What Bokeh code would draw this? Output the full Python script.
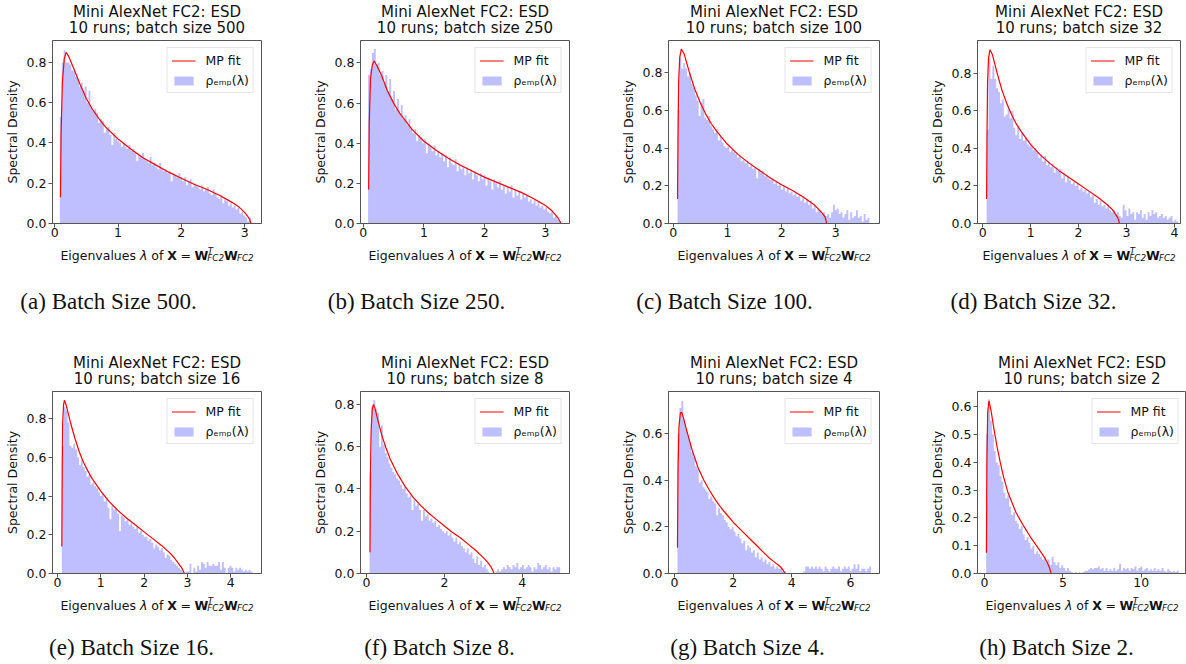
import numpy as np
from bokeh.plotting import figure
from bokeh.models import Label, Legend, LegendItem, FixedTicker, PrintfTickFormatter, Range1d
from bokeh.layouts import row, column
from bokeh.embed import file_html
from bokeh.resources import INLINE

# ---------------- data ----------------
panel_letters = ["a", "b", "c", "d", "e", "f", "g", "h"]
batch_sizes = [500, 250, 100, 32, 16, 8, 4, 2]

bin_lo = [0.08, 0.08, 0.08, 0.08, 0.10, 0.08, 0.10, 0.10]
bin_hi = [3.10, 3.25, 3.62, 4.08, 4.50, 4.97, 6.70, 12.40]

hist_a = [0.53, 0.80, 0.86, 0.80, 0.80, 0.79, 0.76, 0.76, 0.73, 0.72,
          0.68, 0.70, 0.66, 0.68, 0.60, 0.66, 0.58, 0.56, 0.57, 0.55,
          0.50, 0.52, 0.51, 0.45, 0.47, 0.48, 0.44, 0.39, 0.45, 0.42,
          0.41, 0.40, 0.38, 0.40, 0.38, 0.37, 0.39, 0.36, 0.37, 0.35,
          0.31, 0.34, 0.33, 0.35, 0.32, 0.31, 0.30, 0.33, 0.29, 0.30,
          0.28, 0.27, 0.30, 0.27, 0.26, 0.27, 0.25, 0.26, 0.21, 0.25,
          0.24, 0.23, 0.25, 0.23, 0.21, 0.23, 0.19, 0.21, 0.22, 0.18,
          0.20, 0.19, 0.18, 0.17, 0.19, 0.16, 0.17, 0.18, 0.15, 0.14,
          0.17, 0.15, 0.13, 0.12, 0.14, 0.10, 0.12, 0.11, 0.09, 0.10,
          0.08, 0.09, 0.07, 0.08, 0.05, 0.06, 0.04, 0.03, 0.01, 0.03]
hist_b = [0.74, 0.77, 0.85, 0.87, 0.79, 0.80, 0.74, 0.76, 0.70, 0.74,
          0.66, 0.72, 0.62, 0.66, 0.57, 0.62, 0.55, 0.59, 0.52, 0.54,
          0.49, 0.52, 0.48, 0.45, 0.47, 0.41, 0.44, 0.43, 0.40, 0.42,
          0.35, 0.40, 0.38, 0.36, 0.39, 0.34, 0.36, 0.33, 0.35, 0.31,
          0.34, 0.28, 0.33, 0.30, 0.29, 0.32, 0.26, 0.30, 0.27, 0.29,
          0.24, 0.28, 0.25, 0.27, 0.22, 0.26, 0.24, 0.21, 0.25, 0.22,
          0.24, 0.19, 0.23, 0.21, 0.17, 0.22, 0.20, 0.18, 0.21, 0.17,
          0.19, 0.15, 0.18, 0.16, 0.19, 0.13, 0.17, 0.14, 0.16, 0.12,
          0.15, 0.13, 0.14, 0.11, 0.12, 0.10, 0.12, 0.09, 0.11, 0.08,
          0.09, 0.07, 0.08, 0.06, 0.05, 0.06, 0.03, 0.04, 0.02, 0.01]
hist_c = [0.60, 0.88, 0.82, 0.85, 0.82, 0.78, 0.80, 0.74, 0.72, 0.68,
          0.65, 0.57, 0.64, 0.66, 0.56, 0.55, 0.57, 0.52, 0.50, 0.48,
          0.50, 0.44, 0.46, 0.43, 0.41, 0.40, 0.41, 0.38, 0.39, 0.38,
          0.37, 0.35, 0.36, 0.33, 0.34, 0.32, 0.33, 0.30, 0.32, 0.29,
          0.30, 0.24, 0.29, 0.27, 0.28, 0.25, 0.26, 0.24, 0.23, 0.24,
          0.21, 0.22, 0.20, 0.21, 0.18, 0.20, 0.17, 0.19, 0.16, 0.17,
          0.15, 0.16, 0.14, 0.15, 0.12, 0.14, 0.11, 0.13, 0.10, 0.12,
          0.08, 0.10, 0.06, 0.08, 0.07, 0.05, 0.06, 0.04, 0.05, 0.03,
          0.06, 0.10, 0.07, 0.08, 0.05, 0.06, 0.03, 0.05, 0.07, 0.02,
          0.06, 0.03, 0.04, 0.07, 0.03, 0.04, 0.01, 0.05, 0.02, 0.03]
hist_d = [0.50, 0.88, 0.77, 0.84, 0.77, 0.72, 0.70, 0.64, 0.66, 0.57,
          0.58, 0.61, 0.56, 0.60, 0.51, 0.47, 0.52, 0.45, 0.48, 0.44,
          0.46, 0.42, 0.41, 0.42, 0.39, 0.40, 0.38, 0.35, 0.37, 0.33,
          0.36, 0.31, 0.33, 0.30, 0.32, 0.27, 0.30, 0.28, 0.29, 0.24,
          0.27, 0.22, 0.25, 0.23, 0.21, 0.22, 0.20, 0.21, 0.18, 0.19,
          0.17, 0.18, 0.16, 0.17, 0.14, 0.15, 0.11, 0.13, 0.10, 0.12,
          0.09, 0.10, 0.08, 0.09, 0.07, 0.06, 0.07, 0.05, 0.06, 0.04,
          0.03, 0.10, 0.07, 0.04, 0.08, 0.05, 0.06, 0.02, 0.06, 0.05,
          0.07, 0.03, 0.05, 0.02, 0.06, 0.04, 0.07, 0.05, 0.06, 0.03,
          0.04, 0.05, 0.03, 0.04, 0.02, 0.03, 0.04, 0.01, 0.02, 0.01]
hist_e = [0.66, 0.86, 0.84, 0.78, 0.66, 0.65, 0.67, 0.64, 0.60, 0.56,
          0.59, 0.55, 0.53, 0.50, 0.51, 0.46, 0.47, 0.45, 0.44, 0.42,
          0.40, 0.41, 0.37, 0.39, 0.34, 0.28, 0.35, 0.33, 0.34, 0.31,
          0.22, 0.30, 0.29, 0.27, 0.28, 0.25, 0.26, 0.24, 0.23, 0.24,
          0.21, 0.22, 0.20, 0.19, 0.19, 0.17, 0.18, 0.16, 0.13, 0.15,
          0.14, 0.12, 0.13, 0.11, 0.08, 0.10, 0.09, 0.07, 0.06, 0.05,
          0.04, 0.03, 0.02, 0.01, 0.00, 0.01, 0.01, 0.05, 0.00, 0.03,
          0.01, 0.04, 0.02, 0.06, 0.05, 0.03, 0.06, 0.04, 0.04, 0.05,
          0.04, 0.04, 0.06, 0.02, 0.06, 0.03, 0.00, 0.03, 0.04, 0.03,
          0.01, 0.03, 0.02, 0.03, 0.02, 0.01, 0.02, 0.01, 0.02, 0.01]
hist_f = [0.48, 0.79, 0.82, 0.78, 0.76, 0.60, 0.70, 0.61, 0.57, 0.55,
          0.52, 0.50, 0.48, 0.47, 0.45, 0.44, 0.42, 0.40, 0.41, 0.38,
          0.36, 0.37, 0.30, 0.35, 0.32, 0.33, 0.30, 0.25, 0.30, 0.27,
          0.28, 0.25, 0.26, 0.24, 0.25, 0.22, 0.23, 0.21, 0.20, 0.19,
          0.20, 0.18, 0.19, 0.17, 0.15, 0.17, 0.14, 0.15, 0.13, 0.12,
          0.10, 0.12, 0.09, 0.10, 0.07, 0.05, 0.08, 0.04, 0.06, 0.03,
          0.04, 0.02, 0.01, 0.00, 0.00, 0.00, 0.01, 0.02, 0.01, 0.02,
          0.03, 0.02, 0.04, 0.03, 0.02, 0.04, 0.03, 0.05, 0.02, 0.03,
          0.04, 0.02, 0.03, 0.04, 0.03, 0.01, 0.03, 0.02, 0.05, 0.04,
          0.02, 0.03, 0.04, 0.02, 0.03, 0.01, 0.03, 0.02, 0.03, 0.03]
hist_g = [0.60, 0.71, 0.74, 0.66, 0.62, 0.59, 0.56, 0.52, 0.50, 0.46,
          0.45, 0.39, 0.40, 0.37, 0.36, 0.35, 0.32, 0.33, 0.31, 0.30,
          0.25, 0.28, 0.26, 0.25, 0.23, 0.22, 0.20, 0.19, 0.20, 0.18,
          0.16, 0.17, 0.15, 0.13, 0.14, 0.10, 0.12, 0.11, 0.09, 0.10,
          0.07, 0.09, 0.06, 0.07, 0.05, 0.06, 0.04, 0.05, 0.03, 0.04,
          0.02, 0.03, 0.02, 0.02, 0.01, 0.01, 0.00, 0.00, 0.00, 0.00,
          0.00, 0.00, 0.00, 0.00, 0.00, 0.01, 0.03, 0.03, 0.02, 0.03,
          0.02, 0.03, 0.02, 0.03, 0.02, 0.01, 0.03, 0.02, 0.01, 0.02,
          0.03, 0.02, 0.02, 0.03, 0.01, 0.02, 0.03, 0.02, 0.03, 0.01,
          0.02, 0.04, 0.02, 0.04, 0.01, 0.02, 0.02, 0.01, 0.02, 0.03]
hist_h = [0.50, 0.625, 0.55, 0.50, 0.44, 0.40, 0.39, 0.35, 0.33, 0.29,
          0.27, 0.28, 0.24, 0.21, 0.22, 0.19, 0.18, 0.16, 0.17, 0.14,
          0.12, 0.13, 0.11, 0.09, 0.10, 0.07, 0.08, 0.07, 0.06, 0.05,
          0.06, 0.04, 0.05, 0.03, 0.06, 0.04, 0.03, 0.04, 0.02, 0.03,
          0.02, 0.01, 0.02, 0.01, 0.005, 0.00, 0.005, 0.00, 0.005, 0.00,
          0.005, 0.01, 0.01, 0.015, 0.02, 0.015, 0.02, 0.02, 0.025, 0.015,
          0.02, 0.01, 0.02, 0.01, 0.015, 0.01, 0.02, 0.01, 0.015, 0.035,
          0.01, 0.02, 0.015, 0.02, 0.01, 0.02, 0.015, 0.025, 0.01, 0.02,
          0.025, 0.01, 0.015, 0.02, 0.01, 0.015, 0.01, 0.02, 0.01, 0.015,
          0.01, 0.02, 0.01, 0.005, 0.015, 0.01, 0.005, 0.01, 0.005, 0.01]

mp_x_a = [0.09, 0.10, 0.12, 0.15, 0.18, 0.22, 0.3, 0.4, 0.5, 0.6, 0.7, 0.8, 1.0, 1.2, 1.4,
          1.6, 1.8, 2.0, 2.2, 2.4, 2.6, 2.8, 2.9, 3.0, 3.05, 3.08, 3.1]
mp_y_a = [0.13, 0.45, 0.70, 0.82, 0.85, 0.83, 0.77, 0.69, 0.62, 0.565, 0.52, 0.48, 0.42, 0.37, 0.325,
          0.29, 0.255, 0.225, 0.195, 0.17, 0.14, 0.105, 0.085, 0.055, 0.035, 0.02, 0.0]
mp_x_b = [0.09, 0.10, 0.12, 0.15, 0.18, 0.22, 0.3, 0.4, 0.5, 0.6, 0.7, 0.8, 1.0, 1.2, 1.4,
          1.6, 1.8, 2.0, 2.2, 2.4, 2.6, 2.8, 3.0, 3.1, 3.2, 3.24, 3.25]
mp_y_b = [0.17, 0.50, 0.72, 0.79, 0.81, 0.79, 0.74, 0.66, 0.60, 0.55, 0.51, 0.47, 0.41, 0.365, 0.325,
          0.29, 0.26, 0.23, 0.205, 0.18, 0.155, 0.125, 0.09, 0.065, 0.03, 0.01, 0.0]
mp_x_c = [0.08, 0.09, 0.10, 0.12, 0.15, 0.2, 0.3, 0.4, 0.5, 0.6, 0.7, 0.8, 1.0, 1.2, 1.4,
          1.6, 1.8, 2.0, 2.2, 2.4, 2.6, 2.7, 2.75, 2.8, 2.82, 2.83]
mp_y_c = [0.13, 0.50, 0.75, 0.88, 0.925, 0.90, 0.80, 0.71, 0.64, 0.58, 0.53, 0.49, 0.42, 0.365, 0.32,
          0.28, 0.24, 0.205, 0.175, 0.14, 0.10, 0.07, 0.055, 0.035, 0.015, 0.0]
mp_x_d = [0.08, 0.09, 0.10, 0.12, 0.15, 0.2, 0.3, 0.4, 0.5, 0.6, 0.7, 0.8, 1.0, 1.2, 1.4,
          1.6, 1.8, 2.0, 2.2, 2.4, 2.6, 2.7, 2.77, 2.82, 2.84, 2.85]
mp_y_d = [0.13, 0.50, 0.75, 0.88, 0.925, 0.90, 0.80, 0.71, 0.64, 0.58, 0.53, 0.49, 0.42, 0.365, 0.32,
          0.28, 0.245, 0.21, 0.175, 0.14, 0.10, 0.075, 0.05, 0.03, 0.015, 0.0]
mp_x_e = [0.10, 0.11, 0.12, 0.14, 0.16, 0.2, 0.3, 0.4, 0.5, 0.6, 0.7, 0.8, 1.0, 1.2, 1.4,
          1.6, 1.8, 2.0, 2.2, 2.4, 2.6, 2.7, 2.8, 2.88, 2.93]
mp_y_e = [0.14, 0.55, 0.78, 0.87, 0.895, 0.87, 0.78, 0.70, 0.63, 0.575, 0.53, 0.49, 0.425, 0.37, 0.325,
          0.285, 0.25, 0.215, 0.18, 0.145, 0.105, 0.08, 0.05, 0.025, 0.0]
mp_x_f = [0.09, 0.10, 0.12, 0.15, 0.18, 0.22, 0.3, 0.4, 0.5, 0.6, 0.8, 1.0, 1.2, 1.4, 1.6,
          1.8, 2.0, 2.2, 2.4, 2.6, 2.8, 3.0, 3.1, 3.2, 3.25, 3.27]
mp_y_f = [0.10, 0.45, 0.68, 0.78, 0.80, 0.78, 0.72, 0.65, 0.595, 0.545, 0.47, 0.41, 0.36, 0.32, 0.285,
          0.255, 0.225, 0.195, 0.17, 0.14, 0.11, 0.075, 0.055, 0.03, 0.012, 0.0]
mp_x_g = [0.10, 0.12, 0.15, 0.2, 0.25, 0.3, 0.4, 0.5, 0.6, 0.8, 1.0, 1.2, 1.4, 1.6, 1.8,
          2.0, 2.2, 2.4, 2.6, 2.8, 3.0, 3.2, 3.4, 3.6, 3.7, 3.77]
mp_y_g = [0.11, 0.45, 0.63, 0.69, 0.69, 0.67, 0.62, 0.575, 0.53, 0.455, 0.40, 0.355, 0.315, 0.28, 0.25,
          0.22, 0.195, 0.17, 0.145, 0.12, 0.095, 0.07, 0.05, 0.03, 0.015, 0.0]
mp_x_h = [0.12, 0.15, 0.2, 0.28, 0.4, 0.6, 0.8, 1.0, 1.2, 1.5, 2.0, 2.5, 3.0, 3.5, 3.8,
          4.0, 4.15, 4.25]
mp_y_h = [0.075, 0.40, 0.58, 0.62, 0.59, 0.52, 0.455, 0.40, 0.35, 0.29, 0.22, 0.17, 0.125, 0.085, 0.06,
          0.04, 0.02, 0.0]

hists = [hist_a, hist_b, hist_c, hist_d, hist_e, hist_f, hist_g, hist_h]
mp_xs = [mp_x_a, mp_x_b, mp_x_c, mp_x_d, mp_x_e, mp_x_f, mp_x_g, mp_x_h]
mp_ys = [mp_y_a, mp_y_b, mp_y_c, mp_y_d, mp_y_e, mp_y_f, mp_y_g, mp_y_h]

x_tick_lists = [[0, 1, 2, 3], [0, 1, 2, 3], [0, 1, 2, 3], [0, 1, 2, 3, 4],
                [0, 1, 2, 3, 4], [0, 2, 4], [0, 2, 4, 6], [0, 5, 10]]
y_tick_lists = [[0, 0.2, 0.4, 0.6, 0.8]] * 6 + [[0, 0.2, 0.4, 0.6], [0, 0.1, 0.2, 0.3, 0.4, 0.5, 0.6]]

# ---------------- layout / style ----------------
x_ranges = [(-0.036, 3.267), (-0.044, 3.395), (-0.087, 3.806), (-0.11, 4.127),
            (-0.115, 4.71), (-0.153, 5.21), (-0.206, 6.99), (-0.45, 12.89)]
y_tops = [0.909, 0.912, 0.97, 0.974, 0.94, 0.861, 0.781, 0.654]

FIG_W = [308, 308, 309, 261]
FRAME_W = [[209, 209, 211, 203], [209, 209, 211, 209]]
BORDER_L = 52
FRAME_H = [183, 182]
TOP_H = [37, 36]          # height of the title strip
BOT_H = [109, 69]         # height of the x-label / caption strip
MAIN_TOP = 3
MAIN_BOT = 20
CAP_X = [108, 131]
CAP_Y = [51, 15]
FONT = "DejaVu Sans"
SPINE = "#555555"
TXT = "#111111"


def add_label(p, x, y, text, size, style="normal", align="left", baseline="alphabetic", font=FONT):
    p.add_layout(Label(x=x, y=y, text=text,
                       text_font=font, text_font_size=f"{size}px", text_font_style=style,
                       text_align=align, text_baseline=baseline, text_color=TXT))


def text_fig(w, h):
    t = figure(width=w, height=h, x_range=Range1d(0, w), y_range=Range1d(0, h),
               output_backend="svg", toolbar_location=None,
               x_axis_type=None, y_axis_type=None, min_border=0)
    t.frame_align = False
    t.outline_line_color = None
    t.background_fill_color = "white"
    t.border_fill_color = "white"
    return t


def make_panel(k):
    col = k % 4
    r = k // 4
    fw = FRAME_W[r][col]
    W = FIG_W[col]
    fh = FRAME_H[r]
    H = MAIN_TOP + fh + MAIN_BOT
    p = figure(width=W, height=H,
               x_range=Range1d(*x_ranges[k]), y_range=Range1d(0, y_tops[k]),
               output_backend="svg", toolbar_location=None,
               min_border_left=BORDER_L, min_border_right=W - BORDER_L - fw,
               min_border_top=MAIN_TOP, min_border_bottom=MAIN_BOT)
    p.frame_align = False
    p.background_fill_color = "white"
    p.border_fill_color = "white"
    p.grid.visible = False
    p.outline_line_color = SPINE
    p.outline_line_width = 1
    p.outline_line_alpha = 1

    # histogram drawn as one step polygon (density=True, 100 bins)
    h = hists[k]
    edges = np.linspace(bin_lo[k], bin_hi[k], len(h) + 1)
    px = [edges[0]]
    py = [0.0]
    for i, v in enumerate(h):
        px += [edges[i], edges[i + 1]]
        py += [v, v]
    px.append(edges[-1])
    py.append(0.0)
    hr = p.patch(px, py, fill_color="#0000ff", fill_alpha=0.25, line_color=None)
    lr = p.line(mp_xs[k], mp_ys[k], line_color="#ff0000", line_width=1.2)

    legend = Legend(items=[LegendItem(label="MP fit", renderers=[lr]),
                           LegendItem(label="ρₑₘₚ(λ)", renderers=[hr])],
                    location="top_right")
    legend.label_text_font = FONT
    legend.label_text_font_size = "12.5px"
    legend.label_text_color = TXT
    legend.glyph_width = 24
    legend.glyph_height = 11
    legend.label_height = 16
    legend.label_standoff = 10
    legend.padding = 4
    legend.spacing = 4
    legend.margin = 7
    legend.border_line_color = "#cccccc"
    legend.background_fill_alpha = 0.8
    p.add_layout(legend)

    for ax in (p.xaxis[0], p.yaxis[0]):
        ax.axis_line_color = SPINE
        ax.major_tick_line_color = SPINE
        ax.major_tick_out = 4
        ax.major_tick_in = 0
        ax.minor_tick_line_color = None
        ax.major_label_text_font = FONT
        ax.major_label_text_font_size = "12.5px"
        ax.major_label_text_color = TXT
    p.xaxis.ticker = FixedTicker(ticks=x_tick_lists[k])
    p.xaxis.formatter = PrintfTickFormatter(format="%d")
    p.xaxis.major_label_standoff = 0
    p.yaxis.ticker = FixedTicker(ticks=y_tick_lists[k])
    p.yaxis.formatter = PrintfTickFormatter(format="%.1f")
    p.yaxis.major_label_standoff = 2
    p.yaxis.axis_label = "Spectral Density"
    p.yaxis.axis_label_text_font = FONT
    p.yaxis.axis_label_text_font_size = "12.5px"
    p.yaxis.axis_label_text_font_style = "normal"
    p.yaxis.axis_label_text_color = TXT
    p.yaxis.axis_label_standoff = 4

    c = BORDER_L + fw / 2.0

    # title strip (two lines)
    top = text_fig(W, TOP_H[r])
    base2 = MAIN_TOP + 6.5
    add_label(top, c, base2 + 16, "Mini AlexNet FC2: ESD", 15, align="center")
    add_label(top, c, base2, f"10 runs; batch size {batch_sizes[k]}", 15, align="center")

    # x-axis label: Eigenvalues λ of X = W^T_FC2 W_FC2, then the caption
    bot = text_fig(W, BOT_H[r])
    s = c - 96.6
    yb = BOT_H[r] - 11.5
    add_label(bot, s, yb, "Eigenvalues", 12.5)
    add_label(bot, s + 79.5, yb, "λ", 12.5, style="italic")
    add_label(bot, s + 90.9, yb, "of", 12.5)
    add_label(bot, s + 106.9, yb, "X", 12.5, style="bold")
    add_label(bot, s + 120.0, yb, "=", 12.5)
    add_label(bot, s + 134.0, yb, "W", 12.5, style="bold")
    add_label(bot, s + 147.4, yb + 4.5, "T", 8.75, style="italic")
    add_label(bot, s + 146.9, yb - 3.0, "FC2", 8.75, style="italic")
    add_label(bot, s + 163.6, yb, "W", 12.5, style="bold")
    add_label(bot, s + 176.5, yb - 3.0, "FC2", 8.75, style="italic")
    add_label(bot, CAP_X[r], CAP_Y[r], f"({panel_letters[k]}) Batch Size {batch_sizes[k]}.", 23,
              align="center", baseline="middle", font="Liberation Serif")
    return column(top, p, bot)


panels = [make_panel(k) for k in range(8)]
layout = column(row(*panels[:4]), row(*panels[4:]))
open("out.html", "w").write(file_html(layout, INLINE))
